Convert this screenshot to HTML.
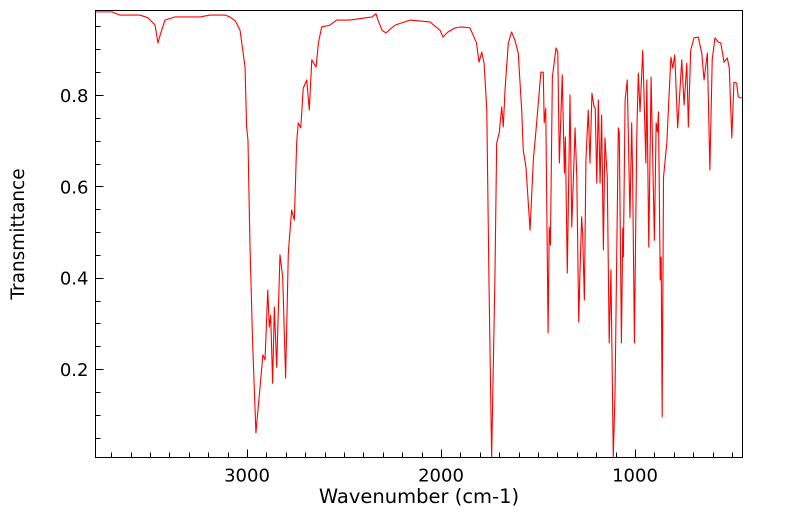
<!DOCTYPE html>
<html><head><meta charset="utf-8"><style>
html,body{margin:0;padding:0;background:#fff;}
svg text{font-family:"DejaVu Sans","Liberation Sans",sans-serif;fill:#000;}
</style></head><body>
<svg id="chart" width="799" height="516" xmlns="http://www.w3.org/2000/svg">
<g id="ticks"></g>
<g id="labels"></g>
<path id="spectrum" fill="none" stroke="#ff0000" stroke-width="1.1" stroke-linejoin="round"/>
<rect x="95.5" y="10.5" width="647" height="447" fill="none" stroke="#000" stroke-width="1"/>
<text x="419" y="503" font-size="19.5" text-anchor="middle">Wavenumber (cm-1)</text>
<text x="24" y="234" font-size="18.5" text-anchor="middle" transform="rotate(-90 24 234)">Transmittance</text>
</svg>
<script>
const wavenumbers=[3783,3696,3655,3552,3510,3474,3459,3448,3423,3371,3242,3191,3113,3088,3060,3036,3010,3002,2995,2985,2971,2954,2933,2918,2907,2893,2885,2878,2868,2859,2847,2830,2816,2801,2787,2770,2756,2744,2736,2723,2710,2692,2679,2666,2644,2632,2615,2572,2538,2469,2356,2335,2325,2304,2284,2237,2160,2057,2005,1990,1964,1928,1892,1851,1834,1817,1804,1790,1778,1764,1753,1739,1722,1713,1700,1687,1679,1670,1653,1636,1619,1602,1584,1576,1562,1541,1524,1507,1485,1473,1468,1460,1448,1442,1436,1426,1407,1398,1390,1375,1364,1359,1349,1335,1326,1309,1300,1290,1284,1275,1270,1261,1253,1241,1232,1222,1211,1205,1197,1189,1180,1172,1163,1155,1143,1133,1124,1112,1103,1086,1081,1070,1063,1060,1051,1040,1026,1017,1012,1003,991,983,974,960,944,939,929,917,905,900,891,884,879,870,865,860,853,836,828,815,805,795,780,759,747,733,725,713,696,674,656,644,627,614,602,588,571,558,541,524,514,501,490,476,468,450];
const transmittance=[0.982,0.982,0.975,0.975,0.969,0.953,0.914,0.931,0.964,0.971,0.971,0.975,0.975,0.971,0.962,0.942,0.861,0.730,0.701,0.476,0.257,0.060,0.160,0.231,0.220,0.373,0.292,0.318,0.169,0.336,0.204,0.450,0.401,0.180,0.454,0.548,0.526,0.695,0.739,0.728,0.815,0.833,0.767,0.877,0.861,0.914,0.949,0.953,0.964,0.964,0.971,0.978,0.964,0.942,0.936,0.953,0.964,0.960,0.942,0.927,0.938,0.947,0.949,0.947,0.931,0.914,0.872,0.894,0.870,0.767,0.401,0.0,0.401,0.695,0.717,0.774,0.730,0.811,0.914,0.938,0.920,0.892,0.767,0.679,0.642,0.504,0.658,0.739,0.850,0.850,0.739,0.771,0.279,0.511,0.471,0.839,0.903,0.894,0.651,0.844,0.629,0.708,0.410,0.800,0.511,0.728,0.620,0.303,0.406,0.533,0.498,0.351,0.658,0.767,0.651,0.804,0.774,0.771,0.607,0.789,0.607,0.756,0.461,0.706,0.620,0.257,0.417,0.005,0.147,0.728,0.717,0.257,0.509,0.445,0.789,0.833,0.531,0.739,0.618,0.257,0.708,0.848,0.763,0.898,0.651,0.833,0.467,0.839,0.585,0.482,0.739,0.719,0.763,0.395,0.445,0.095,0.620,0.695,0.767,0.883,0.859,0.888,0.728,0.877,0.778,0.870,0.730,0.898,0.925,0.927,0.892,0.833,0.892,0.636,0.877,0.925,0.916,0.914,0.872,0.881,0.859,0.706,0.828,0.826,0.796,0.793];
const xTickValues=[3000,2000,1000];
const xTickLabels=["3000","2000","1000"];
const yTickValues=[0.2,0.4,0.6,0.8];
const yTickLabels=["0.2","0.4","0.6","0.8"];

const X0=95.5,X1=742.5,Y0=10.5,Y1=457.5;
function xScale(w){return 247+(3000-w)*0.194;}
function yScale(t){return 95+(0.8-t)*456.7;}
const NS="http://www.w3.org/2000/svg";

let d="";
for(let i=0;i<wavenumbers.length;i++){
  const px=xScale(wavenumbers[i]);
  const py=Math.min(Y1,Math.max(Y0,yScale(transmittance[i])));
  d+=(i?"L":"M")+px.toFixed(2)+","+py.toFixed(2);
}
document.getElementById("spectrum").setAttribute("d",d);

const tg=document.getElementById("ticks"),lg=document.getElementById("labels");
function line(x1,y1,x2,y2,name){
  const l=document.createElementNS(NS,"line");
  l.setAttribute("x1",x1);l.setAttribute("y1",y1);l.setAttribute("x2",x2);l.setAttribute("y2",y2);
  l.setAttribute("stroke","#000");l.setAttribute("stroke-width","1");
  
  
  tg.appendChild(l);
}
for(let w=400;w<=3800;w+=100){
  const px=Math.round(xScale(w))+0.5;
  if(px<X0||px>X1)continue;
  const major=w%1000===0;
  line(px,Y1,px,Y1-(major?8:5),"x-tick");
}
for(let k=1;k<=19;k++){
  const t=k*0.05;
  const py=Math.round(yScale(t))+0.5;
  if(py<Y0||py>Y1)continue;
  const major=Math.abs(t*5-Math.round(t*5))<1e-6;
  line(X0,py,X0+(major?8:5),py,"y-tick");
}
xTickValues.forEach((v,i)=>{
  const t=document.createElementNS(NS,"text");
  t.setAttribute("x",xScale(v));t.setAttribute("y",Y1+24);
  t.setAttribute("font-size","18");t.setAttribute("text-anchor","middle");
  t.textContent=xTickLabels[i];
  
  
  lg.appendChild(t);
});
yTickValues.forEach((v,i)=>{
  const t=document.createElementNS(NS,"text");
  t.setAttribute("x",X0-7);t.setAttribute("y",yScale(v)+7);
  t.setAttribute("font-size","18");t.setAttribute("text-anchor","end");
  t.textContent=yTickLabels[i];
  
  
  lg.appendChild(t);
});
</script>
</body></html>
